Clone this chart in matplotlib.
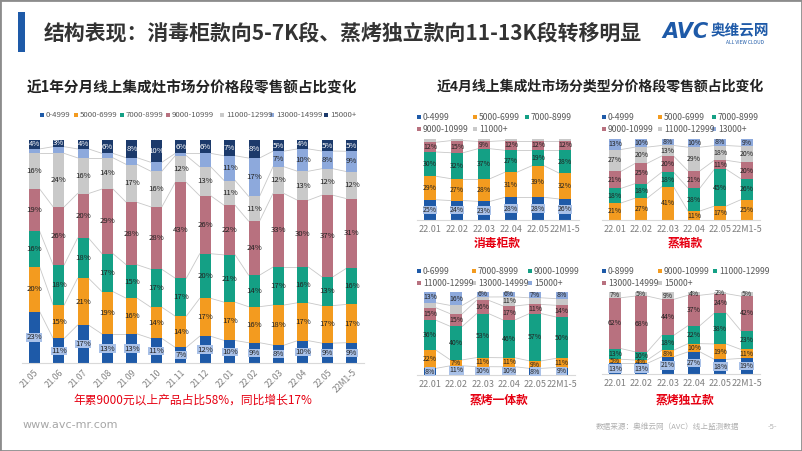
import matplotlib
matplotlib.use("Agg")
import matplotlib.pyplot as plt
from matplotlib.patches import Rectangle
import numpy as np

plt.rcParams["font.family"] = ["Noto Sans CJK SC", "DejaVu Sans"]

# ---- data ----
main_months = ["21.05", "21.06", "21.07", "21.08", "21.09", "21.10", "21.11",
               "21.12", "22.01", "22.02", "22.03", "22.04", "22.05", "22M1-5"]
main_bands = ["0-4999", "5000-6999", "7000-8999", "9000-10999",
              "11000-12999", "13000-14999", "15000+"]
main_0_4999 = [23, 11, 17, 13, 13, 11, 7, 12, 10, 9, 8, 10, 9, 9]
main_5000_6999 = [20, 15, 21, 19, 16, 14, 14, 17, 17, 16, 18, 17, 17, 17]
main_7000_8999 = [16, 18, 18, 17, 15, 17, 17, 20, 21, 14, 17, 16, 13, 16]
main_9000_10999 = [19, 26, 20, 29, 28, 28, 43, 26, 22, 24, 33, 30, 37, 31]
main_11000_12999 = [16, 24, 16, 14, 17, 16, 12, 13, 11, 11, 12, 13, 12, 12]
main_13000_14999 = [2, 3, 4, 2, 3, 4, 1, 6, 11, 17, 7, 10, 8, 9]
main_15000_up = [4, 3, 4, 6, 8, 10, 6, 6, 7, 8, 5, 4, 5, 5]

sub_months = ["22.01", "22.02", "22.03", "22.04", "22.05", "22M1-5"]

# 消毒柜款
xdg_bands = ["0-4999", "5000-6999", "7000-8999", "9000-10999", "11000+"]
xdg_values = [[25, 24, 23, 28, 28, 26],
              [29, 27, 28, 31, 39, 32],
              [30, 32, 37, 27, 19, 28],
              [12, 15, 9, 12, 12, 12],
              [4, 2, 3, 2, 2, 2]]

# 蒸箱款
zx_bands = ["0-4999", "5000-6999", "7000-8999", "9000-10999", "11000-12999", "13000+"]
zx_values = [[0, 0, 0, 0, 0, 0],
             [21, 27, 41, 11, 17, 25],
             [18, 18, 18, 28, 45, 26],
             [21, 25, 20, 21, 11, 20],
             [27, 20, 13, 29, 18, 20],
             [13, 10, 8, 10, 8, 9]]

# 蒸烤一体款
zkyt_bands = ["0-6999", "7000-8999", "9000-10999", "11000-12999", "13000-14999", "15000+"]
zkyt_values = [[8, 11, 10, 10, 8, 9],
               [22, 7, 11, 11, 9, 11],
               [36, 40, 53, 46, 57, 50],
               [15, 15, 16, 17, 11, 14],
               [6, 10, 4, 11, 8, 8],
               [13, 16, 6, 6, 7, 8]]

# 蒸烤独立款
zkdl_bands = ["0-8999", "9000-10999", "11000-12999", "13000-14999", "15000+"]
zkdl_values = [[13, 13, 21, 27, 18, 19],
               [5, 4, 8, 10, 19, 11],
               [13, 10, 18, 22, 38, 23],
               [62, 68, 44, 37, 24, 42],
               [7, 5, 9, 4, 2, 5]]

# ---- style ----
DBLUE = "#1E5AA8"
ORANGE = "#F39B1F"
GREEN = "#14A085"
PINK = "#B8717F"
GRAY = "#C9C9C9"
LBLUE = "#8DA9DC"
NAVY = "#1C3A6B"
LABEL_BG = "#A9C1E8"

W, H = 802, 451
fig = plt.figure(figsize=(W / 100, H / 100), dpi=100)


def px(x, y):
    return x / W, 1 - y / H


def stacked(ax, cats, values, colors, width, fs, min_label, white_top=False):
    vals = np.array(values, dtype=float)
    shares = vals / vals.sum(axis=0) * 100
    x = np.arange(len(cats))
    bottom = np.zeros(len(cats))
    bounds = []
    for i, row in enumerate(shares):
        ax.bar(x, row, width, bottom=bottom, color=colors[i], linewidth=0, zorder=2)
        for j, v in enumerate(row):
            raw = vals[i, j]
            if raw <= 0 or raw < min_label[i]:
                continue
            kw = {}
            if i == 0:
                kw["bbox"] = dict(boxstyle="square,pad=0.03", fc=LABEL_BG, ec="none")
            color = "white" if (white_top and i == len(shares) - 1) else "#222222"
            ax.text(x[j], bottom[j] + v / 2, f"{int(raw)}%", ha="center", va="center",
                    fontsize=fs, color=color, zorder=4, **kw)
        bottom = bottom + row
        if i < len(shares) - 1:
            bounds.append(bottom.copy())
    for b in bounds:
        for j in range(len(cats) - 1):
            ax.plot([x[j] + width / 2, x[j + 1] - width / 2], [b[j], b[j + 1]],
                    color="#C8C8C8", lw=0.6, zorder=1)
    ax.set_xlim(-0.5, len(cats) - 0.5)
    ax.set_ylim(0, 100)
    ax.set_yticks([])
    for s in ["top", "left", "right"]:
        ax.spines[s].set_visible(False)
    ax.spines["bottom"].set_color("#D9D9D9")
    ax.tick_params(axis="x", length=0, colors="#7F7F7F")
    ax.set_xticks(x)


def legend(items, colors, xs, ys, fs=6.2):
    for k, (lab, c) in enumerate(zip(items, colors)):
        x0, y0 = xs[k], ys[k]
        fx, fy = px(x0, y0 + 2)
        fig.patches.append(Rectangle((fx, fy), 4 / W, 4 / H, transform=fig.transFigure,
                                     fc=c, ec="none"))
        tx, ty = px(x0 + 6, y0)
        fig.text(tx, ty, lab, fontsize=fs, color="#595959", va="center", ha="left")


# ---- header ----
fig.patches.append(Rectangle((0, 0), 1, 1, transform=fig.transFigure, fill=False,
                             ec="#8C8C8C", lw=2))
bx, by = px(18, 52)
fig.patches.append(Rectangle((bx, by), 7 / W, 40 / H, transform=fig.transFigure,
                             fc=DBLUE, ec="none"))
fig.text(*px(44, 33), "结构表现：消毒柜款向5-7K段、蒸烤独立款向11-13K段转移明显",
         fontsize=15, fontweight="bold", color="#333333", va="center", ha="left")
fig.text(*px(662, 32), "AVC", fontsize=15, fontweight="bold", fontstyle="italic",
         color=DBLUE, va="center", ha="left", family="DejaVu Sans")
fig.text(*px(711, 30), "奥维云网", fontsize=10.5, fontweight="bold", color=DBLUE,
         va="center", ha="left")
fig.text(*px(726, 42), "ALL VIEW CLOUD", fontsize=3.5, color=DBLUE, va="center", ha="left")

# ---- main chart ----
fig.text(*px(192, 87), "近1年分月线上集成灶市场分价格段零售额占比变化", fontsize=10.5,
         fontweight="bold", color="#222222", ha="center", va="center")
main_colors = [DBLUE, ORANGE, GREEN, PINK, GRAY, LBLUE, NAVY]
ax = fig.add_axes([22 / W, 1 - 363 / H, 342 / W, 223 / H])
main_values = [main_0_4999, main_5000_6999, main_7000_8999, main_9000_10999,
               main_11000_12999, main_13000_14999, main_15000_up]
stacked(ax, main_months, main_values, main_colors, 0.45, 5.6,
        [0, 0, 0, 0, 0, 7, 0], white_top=True)
ax.set_xticklabels(main_months, rotation=45, ha="right", fontsize=6.2,
                   rotation_mode="anchor")
legend(main_bands, main_colors, [40, 74, 120, 166, 220, 270, 324], [115] * 7, fs=5.6)
fig.text(*px(193, 400), "年累9000元以上产品占比58%，同比增长17%", fontsize=8.5,
         color="#E60012", ha="center", va="center")

# ---- right charts ----
fig.text(*px(600, 87), "近4月线上集成灶市场分类型分价格段零售额占比变化", fontsize=10,
         fontweight="bold", color="#222222", ha="center", va="center")

panels = [
    (xdg_bands, xdg_values, [DBLUE, ORANGE, GREEN, PINK, GRAY], "消毒柜款",
     [416.5, 220, 162, 81], [417, 473, 525, 417, 473], [117, 117, 117, 129, 129],
     [0, 0, 0, 0, 100], 497, 243),
    (zx_bands, zx_values, [DBLUE, ORANGE, GREEN, PINK, GRAY, LBLUE], "蒸箱款",
     [601.8, 220, 158, 81], [602, 658, 712, 602, 658, 712], [117, 117, 117, 129, 129, 129],
     [0, 0, 0, 0, 0, 0], 685, 243),
    (zkyt_bands, zkyt_values, [DBLUE, ORANGE, GREEN, PINK, GRAY, LBLUE], "蒸烤一体款",
     [416.8, 375, 158, 83], [417, 472, 528, 417, 472, 528], [271, 271, 271, 283, 283, 283],
     [0, 0, 0, 0, 11, 0], 499, 400),
    (zkdl_bands, zkdl_values, [DBLUE, ORANGE, GREEN, PINK, GRAY], "蒸烤独立款",
     [601.8, 374, 158, 82], [602, 658, 713, 602, 658], [271, 271, 271, 283, 283],
     [0, 0, 0, 0, 0], 685, 400),
]
for bands, values, colors, name, (l, b, w, h), lx, ly, mins, tx, ty in panels:
    a = fig.add_axes([l / W, 1 - b / H, w / W, h / H])
    stacked(a, sub_months, values, colors, 0.45, 5.0, mins)
    a.set_xticklabels(sub_months, fontsize=6.5)
    legend(bands, colors, lx, ly)
    fig.text(*px(tx, ty), name, fontsize=8.5, fontweight="bold", color="#E60012",
             ha="center", va="center")

# ---- footer ----
fig.text(*px(23, 425), "www.avc-mr.com", fontsize=8, color="#A6A6A6", va="center",
         ha="left", family="DejaVu Sans")
fig.text(*px(596, 427), "数据来源：奥维云网（AVC）线上监测数据", fontsize=5.5,
         color="#B0B0B0", va="center", ha="left")
fig.text(*px(772, 427), "-5-", fontsize=5.5, color="#B0B0B0", va="center", ha="center")

fig.savefig("out.png", dpi=100)
